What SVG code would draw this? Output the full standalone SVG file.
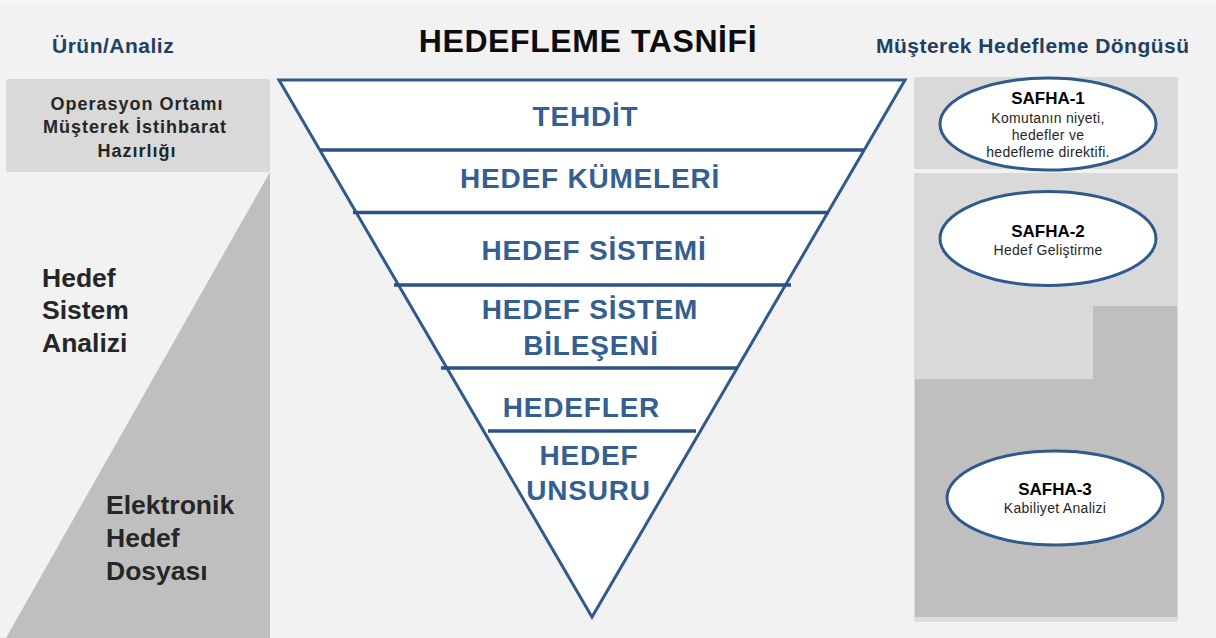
<svg xmlns="http://www.w3.org/2000/svg" width="1216" height="638" viewBox="0 0 1216 638">
<style>
.hdr{font-family:"Liberation Sans",Arial,sans-serif;font-weight:bold;fill:#1f3f66}
.tier{font-family:"Liberation Sans",Arial,sans-serif;font-weight:bold;font-size:28px;fill:#365f91;text-anchor:middle;letter-spacing:0.8px}
.dark{font-family:"Liberation Sans",Arial,sans-serif;font-weight:bold;fill:#262626}
.ph{font-family:"Liberation Sans",Arial,sans-serif;font-weight:bold;font-size:17px;fill:#000;text-anchor:middle}
.pd{font-family:"Liberation Sans",Arial,sans-serif;font-size:14px;fill:#262626;text-anchor:middle;letter-spacing:0.3px}
.div{stroke:#2a5185;stroke-width:3.5;fill:none}
.oval{fill:#fff;stroke:#30598c;stroke-width:3}
</style>
<rect x="0" y="0" width="1216" height="638" fill="#f2f2f2"/>
<rect x="0" y="0" width="1216" height="3" fill="#f7f7f7"/>

<g id="title">
<text x="588" y="52" font-family="Liberation Sans, Arial, sans-serif" font-weight="bold" font-size="32" fill="#0d0d0d" text-anchor="middle" letter-spacing="0.6">HEDEFLEME TASNİFİ</text>
</g>
<g id="header-left"><text class="hdr" x="52" y="53" font-size="21" letter-spacing="0.5">Ürün/Analiz</text></g>
<g id="header-right"><text class="hdr" x="876" y="53" font-size="21" textLength="313">Müşterek Hedefleme Döngüsü</text></g>

<g id="left-panel">
<rect x="6" y="79" width="264" height="93" rx="2" fill="#d9d9d9"/>
<polygon points="270,172 270,638 6,638" fill="#bfbfbf"/>
<text class="dark" font-size="18" text-anchor="middle" letter-spacing="1"><tspan x="137" y="110">Operasyon Ortamı</tspan><tspan x="135" y="133">Müşterek İstihbarat</tspan><tspan x="137" y="157">Hazırlığı</tspan></text>
<text class="dark" font-size="26.5"><tspan x="42" y="287">Hedef</tspan><tspan x="42" y="319">Sistem</tspan><tspan x="42" y="352">Analizi</tspan></text>
<text class="dark" font-size="26.5"><tspan x="106" y="514">Elektronik</tspan><tspan x="106" y="547">Hedef</tspan><tspan x="106" y="580">Dosyası</tspan></text>
</g>

<g id="pyramid">
<polygon points="279,80 905,80 592,617" fill="#fff" stroke="#30598c" stroke-width="3" stroke-linejoin="miter"/>
</g>
<g id="connectors">
<line class="div" x1="320" y1="150" x2="864" y2="150"/>
<line class="div" x1="353" y1="212.5" x2="829" y2="212.5"/>
<line class="div" x1="394" y1="285" x2="791" y2="285"/>
<line class="div" x1="441" y1="368" x2="738" y2="368"/>
<line class="div" x1="488" y1="431" x2="696" y2="431"/>
</g>
<g id="tier-tehdit"><text class="tier" x="585.5" y="126">TEHDİT</text></g>
<g id="tier-kumeleri"><text class="tier" x="590" y="188">HEDEF KÜMELERİ</text></g>
<g id="tier-sistemi"><text class="tier" x="594" y="260">HEDEF SİSTEMİ</text></g>
<g id="tier-bileseni"><text class="tier"><tspan x="590" y="319">HEDEF SİSTEM</tspan><tspan x="591" y="355">BİLEŞENİ</tspan></text></g>
<g id="tier-hedefler"><text class="tier" x="581.5" y="417">HEDEFLER</text></g>
<g id="tier-unsuru"><text class="tier"><tspan x="589" y="465">HEDEF</tspan><tspan x="588.5" y="500">UNSURU</tspan></text></g>

<g id="right-panel">
<rect x="914" y="77" width="264" height="92" rx="2" fill="#d9d9d9"/>
<rect x="914" y="173" width="264" height="449" rx="2" fill="#dedede"/>
<rect x="914" y="173" width="264" height="444" rx="2" fill="#d9d9d9"/>
<polygon points="1093,306 1177,306 1177,617 915,617 915,379 1093,379" fill="#bfbfbf"/>
</g>

<g id="safha-1">
<ellipse class="oval" cx="1048" cy="124" rx="108" ry="46"/>
<text class="ph" x="1048" y="104">SAFHA-1</text>
<text class="pd"><tspan x="1048" y="123">Komutanın niyeti,</tspan><tspan x="1048" y="140">hedefler ve</tspan><tspan x="1048" y="157">hedefleme direktifi.</tspan></text>
</g>
<g id="safha-2">
<ellipse class="oval" cx="1048" cy="238.5" rx="108" ry="47"/>
<text class="ph" x="1048" y="237">SAFHA-2</text>
<text class="pd" x="1048" y="255">Hedef Geliştirme</text>
</g>
<g id="safha-3">
<ellipse class="oval" cx="1055" cy="498" rx="108" ry="47"/>
<text class="ph" x="1055" y="495">SAFHA-3</text>
<text class="pd" x="1055" y="513">Kabiliyet Analizi</text>
</g>
</svg>
